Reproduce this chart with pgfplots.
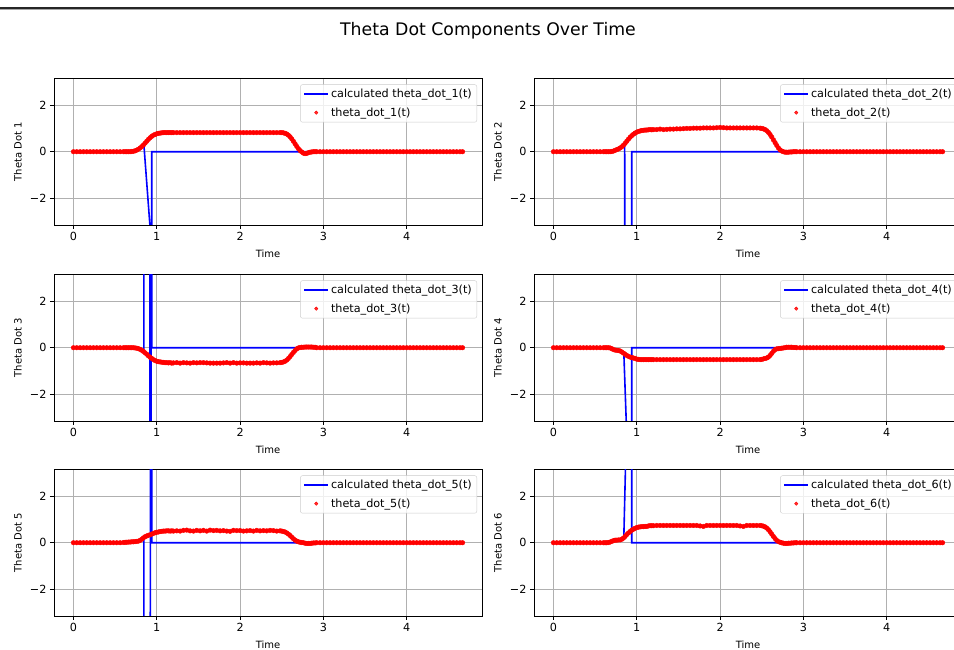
\documentclass[border=0pt]{standalone}
\usepackage{pgfplots}
\usepackage{pgfplotstable}
\pgfplotsset{compat=1.18}
\usepackage{fontspec}
\setmainfont{DejaVu Sans}
\definecolor{gridgray}{HTML}{B0B0B0}
\definecolor{legedge}{HTML}{CCCCCC}

\pgfplotstableread{
t y
0.00 0
0.04 0
0.08 0
0.12 0
0.16 0
0.20 0
0.24 0
0.28 0
0.32 0
0.36 0
0.40 0
0.44 0
0.48 0
0.52 0
0.56 0
2.92 0
2.96 0
3.00 0
3.04 0
3.08 0
3.12 0
3.16 0
3.20 0
3.24 0
3.28 0
3.32 0
3.36 0
3.40 0
3.44 0
3.48 0
3.52 0
3.56 0
3.60 0
3.64 0
3.68 0
3.72 0
3.76 0
3.80 0
3.84 0
3.88 0
3.92 0
3.96 0
4.00 0
4.04 0
4.08 0
4.12 0
4.16 0
4.20 0
4.24 0
4.28 0
4.32 0
4.36 0
4.40 0
4.44 0
4.48 0
4.52 0
4.56 0
4.60 0
4.64 0
4.67 0
}\flatT

\pgfplotstableread{
t p1 p2 p3 p4 p5 p6
0.60 0 0 0 0 0.01 0
0.62 0 0 0 0 0.02 0
0.64 0 0 0 0 0.02 0
0.66 0 0 0 0 0.03 0.01
0.68 0 0 0 -0.01 0.03 0.03
0.70 0.01 0.01 0 -0.04 0.04 0.06
0.72 0.02 0.03 0 -0.08 0.04 0.09
0.74 0.04 0.06 -0.01 -0.10 0.05 0.11
0.76 0.07 0.09 -0.02 -0.11 0.06 0.11
0.78 0.11 0.12 -0.04 -0.12 0.07 0.12
0.80 0.16 0.16 -0.07 -0.14 0.10 0.12
0.82 0.22 0.21 -0.11 -0.18 0.15 0.15
0.84 0.29 0.28 -0.16 -0.23 0.21 0.20
0.86 0.37 0.36 -0.22 -0.28 0.26 0.27
0.88 0.45 0.45 -0.28 -0.33 0.29 0.35
0.90 0.53 0.54 -0.35 -0.37 0.32 0.42
0.92 0.60 0.62 -0.41 -0.40 0.34 0.48
0.94 0.66 0.69 -0.46 -0.42 0.37 0.54
0.96 0.71 0.75 -0.51 -0.44 0.40 0.58
0.98 0.74 0.80 -0.55 -0.46 0.43 0.62
1.00 0.77 0.84 -0.58 -0.49 0.45 0.65
1.02 0.79 0.87 -0.60 -0.50 0.46 0.67
1.04 0.80 0.89 -0.61 -0.51 0.48 0.68
1.06 0.81 0.91 -0.62 -0.51 0.49 0.69
1.08 0.82 0.92 -0.63 -0.51 0.50 0.69
1.10 0.82 0.93 -0.64 -0.51 0.50 0.70
1.12 0.82 0.93 -0.64 -0.51 0.51 0.70
1.14 0.82 0.94 -0.65 -0.51 0.51 0.72
1.16 0.82 0.95 -0.64 -0.51 0.50 0.73
1.18 0.82 0.94 -0.66 -0.51 0.51 0.73
1.20 0.82 0.95 -0.65 -0.51 0.50 0.73
1.24 0.82 0.95 -0.64 -0.51 0.51 0.74
1.28 0.82 0.97 -0.66 -0.51 0.50 0.74
1.32 0.82 0.95 -0.64 -0.51 0.53 0.74
1.36 0.82 0.96 -0.65 -0.51 0.54 0.74
1.40 0.82 0.97 -0.66 -0.51 0.51 0.74
1.44 0.82 0.97 -0.64 -0.51 0.50 0.74
1.48 0.82 0.98 -0.65 -0.51 0.53 0.74
1.52 0.82 0.98 -0.64 -0.51 0.51 0.74
1.56 0.82 0.99 -0.64 -0.51 0.53 0.74
1.60 0.82 1.00 -0.65 -0.51 0.50 0.74
1.64 0.82 1.00 -0.66 -0.51 0.54 0.74
1.68 0.82 1.01 -0.66 -0.51 0.52 0.74
1.72 0.82 1.01 -0.66 -0.51 0.53 0.74
1.76 0.82 1.01 -0.66 -0.51 0.51 0.72
1.80 0.82 1.02 -0.65 -0.51 0.52 0.70
1.84 0.82 1.02 -0.64 -0.51 0.50 0.74
1.88 0.82 1.02 -0.66 -0.51 0.49 0.74
1.92 0.82 1.02 -0.64 -0.51 0.53 0.74
1.96 0.82 1.03 -0.66 -0.51 0.52 0.74
2.00 0.82 1.04 -0.65 -0.51 0.52 0.74
2.04 0.82 1.03 -0.65 -0.51 0.50 0.74
2.08 0.82 1.02 -0.66 -0.51 0.51 0.74
2.12 0.82 1.02 -0.66 -0.51 0.52 0.74
2.16 0.82 1.02 -0.66 -0.51 0.50 0.74
2.20 0.82 1.02 -0.65 -0.51 0.53 0.74
2.24 0.82 1.02 -0.66 -0.51 0.51 0.72
2.28 0.82 1.02 -0.64 -0.51 0.52 0.70
2.32 0.82 1.02 -0.65 -0.51 0.51 0.74
2.36 0.82 1.02 -0.66 -0.51 0.53 0.74
2.40 0.82 1.02 -0.65 -0.51 0.52 0.74
2.44 0.82 1.02 -0.65 -0.51 0.50 0.74
2.48 0.82 1.01 -0.64 -0.51 0.51 0.74
2.50 0.82 1.00 -0.63 -0.50 0.50 0.73
2.52 0.81 0.98 -0.61 -0.48 0.48 0.71
2.54 0.79 0.95 -0.58 -0.46 0.46 0.68
2.56 0.76 0.90 -0.53 -0.44 0.42 0.63
2.58 0.71 0.83 -0.46 -0.40 0.37 0.56
2.60 0.64 0.74 -0.38 -0.33 0.31 0.47
2.62 0.55 0.63 -0.29 -0.24 0.24 0.37
2.64 0.45 0.51 -0.20 -0.15 0.17 0.27
2.66 0.34 0.39 -0.12 -0.08 0.11 0.18
2.68 0.23 0.27 -0.05 -0.05 0.07 0.10
2.70 0.13 0.16 -0.01 -0.04 0.04 0.05
2.72 0.05 0.08 0.01 -0.03 0.02 0.02
2.74 -0.01 0.03 0.02 -0.02 0.01 0.00
2.76 -0.06 0.00 0.02 -0.01 0.00 -0.02
2.78 -0.08 -0.02 0.03 0.00 -0.02 -0.03
2.80 -0.07 -0.02 0.03 0.02 -0.03 -0.03
2.82 -0.04 -0.02 0.03 0.02 -0.03 -0.02
2.84 -0.02 -0.01 0.03 0.02 -0.03 -0.02
2.86 -0.01 -0.01 0.03 0.02 -0.02 -0.01
2.88 0 0 0.02 0.01 -0.01 -0.01
2.90 0 0 0.02 0.01 -0.01 0
}\mainT

\pgfplotsset{
  panel/.style={
    anchor=south west,
    scale only axis, width=428pt, height=146.5pt,
    xmin=-0.2335, xmax=4.9035, ymin=-3.14159, ymax=3.14159,
    xtick={0,1,2,3,4}, ytick={-2,0,2}, yticklabels={−2,0,2},
    /pgf/number format/assume math mode=true,
    grid=major, major grid style={color=gridgray, line width=0.8pt},
    axis line style={line width=0.8pt},
    tick style={black, line width=0.8pt}, major tick length=4pt,
    tick align=outside, tick pos=left,
    ticklabel style={font=\fontsize{11.2}{13}\selectfont},
    label style={font=\fontsize{11.2}{13}\selectfont},
    xlabel={Time},
    every axis x label/.style={at={(axis description cs:0.5,-0.197)}, anchor=center},
    every axis y label/.style={at={(axis description cs:-0.0841,0.5)}, anchor=center, rotate=90},
    legend style={at={(1,1)}, anchor=north east, xshift=-5pt, yshift=-6pt,
      draw=legedge, rounded corners=2pt, fill=white, fill opacity=0.8, draw opacity=1, text opacity=1,
      font=\fontsize{11.2}{13}\selectfont, inner xsep=3pt, inner ysep=2.5pt, row sep=4.5pt},
    legend cell align=left,
  },
  redpts/.style={only marks, mark=*, mark size=2.3pt, red, draw=red, fill=red, forget plot},
  bluel/.style={color=blue, line width=1.6pt, forget plot},
}

\begin{document}
\begin{tikzpicture}
\draw[line width=2.6pt, black!85] (0pt,642pt) -- (954pt,642pt);
\draw[line width=0.8pt, black!35] (0pt,640.2pt) -- (954pt,640.2pt);
\node[font=\fontsize{17.3}{20}\selectfont] at (488pt,619pt) {Theta Dot Components Over Time};

% ---- Panel 1
\begin{axis}[panel, at={(54pt,425pt)}, ylabel={Theta Dot 1}]
\addlegendimage{blue, line width=1.6pt, legend image code/.code={\draw[blue, line width=1.6pt] (0pt,0pt) -- (24pt,0pt);}}\addlegendentry{calculated theta\_dot\_1(t)}
\addlegendimage{red, legend image code/.code={\fill[red] (12pt,0pt) circle (1.7pt);}}\addlegendentry{theta\_dot\_1(t)}
\addplot[redpts] table[x=t,y=y] {\flatT};
\addplot[redpts] table[x=t,y=p1] {\mainT};
\addplot[bluel] coordinates {(0.845,0.32) (0.925,-3.5) (0.93,-40) (0.935,-40) (0.94,0) (3.0,0)};
\end{axis}

% ---- Panel 2
\begin{axis}[panel, at={(534pt,425pt)}, ylabel={Theta Dot 2}]
\addlegendimage{blue, line width=1.6pt, legend image code/.code={\draw[blue, line width=1.6pt] (0pt,0pt) -- (24pt,0pt);}}\addlegendentry{calculated theta\_dot\_2(t)}
\addlegendimage{red, legend image code/.code={\fill[red] (12pt,0pt) circle (1.7pt);}}\addlegendentry{theta\_dot\_2(t)}
\addplot[redpts] table[x=t,y=y] {\flatT};
\addplot[redpts] table[x=t,y=p2] {\mainT};
\addplot[bluel] coordinates {(0.855,0.33) (0.86,-40) (0.935,-40) (0.94,0) (3.0,0)};
\end{axis}

% ---- Panel 3
\begin{axis}[panel, at={(54pt,229pt)}, ylabel={Theta Dot 3}]
\addlegendimage{blue, line width=1.6pt, legend image code/.code={\draw[blue, line width=1.6pt] (0pt,0pt) -- (24pt,0pt);}}\addlegendentry{calculated theta\_dot\_3(t)}
\addlegendimage{red, legend image code/.code={\fill[red] (12pt,0pt) circle (1.7pt);}}\addlegendentry{theta\_dot\_3(t)}
\addplot[redpts] table[x=t,y=y] {\flatT};
\addplot[redpts] table[x=t,y=p3] {\mainT};
\addplot[bluel] coordinates {(0.845,-0.13) (0.85,40) (0.915,40) (0.92,-40) (0.93,-40) (0.935,40) (0.94,0) (3.0,0)};
\end{axis}

% ---- Panel 4
\begin{axis}[panel, at={(534pt,229pt)}, ylabel={Theta Dot 4}]
\addlegendimage{blue, line width=1.6pt, legend image code/.code={\draw[blue, line width=1.6pt] (0pt,0pt) -- (24pt,0pt);}}\addlegendentry{calculated theta\_dot\_4(t)}
\addlegendimage{red, legend image code/.code={\fill[red] (12pt,0pt) circle (1.7pt);}}\addlegendentry{theta\_dot\_4(t)}
\addplot[redpts] table[x=t,y=y] {\flatT};
\addplot[redpts] table[x=t,y=p4] {\mainT};
\addplot[bluel] coordinates {(0.845,-0.25) (0.875,-3.3) (0.88,-40) (0.935,-40) (0.94,0) (3.0,0)};
\end{axis}

% ---- Panel 5
\begin{axis}[panel, at={(54pt,34pt)}, ylabel={Theta Dot 5}]
\addlegendimage{blue, line width=1.6pt, legend image code/.code={\draw[blue, line width=1.6pt] (0pt,0pt) -- (24pt,0pt);}}\addlegendentry{calculated theta\_dot\_5(t)}
\addlegendimage{red, legend image code/.code={\fill[red] (12pt,0pt) circle (1.7pt);}}\addlegendentry{theta\_dot\_5(t)}
\addplot[redpts] table[x=t,y=y] {\flatT};
\addplot[redpts] table[x=t,y=p5] {\mainT};
\addplot[bluel] coordinates {(0.845,0.28) (0.85,-40) (0.92,-40) (0.925,40) (0.935,40) (0.94,0) (3.0,0)};
\end{axis}

% ---- Panel 6
\begin{axis}[panel, at={(534pt,34pt)}, ylabel={Theta Dot 6}]
\addlegendimage{blue, line width=1.6pt, legend image code/.code={\draw[blue, line width=1.6pt] (0pt,0pt) -- (24pt,0pt);}}\addlegendentry{calculated theta\_dot\_6(t)}
\addlegendimage{red, legend image code/.code={\fill[red] (12pt,0pt) circle (1.7pt);}}\addlegendentry{theta\_dot\_6(t)}
\addplot[redpts] table[x=t,y=y] {\flatT};
\addplot[redpts] table[x=t,y=p6] {\mainT};
\addplot[bluel] coordinates {(0.845,0.30) (0.865,3.3) (0.87,40) (0.935,40) (0.94,0) (3.0,0)};
\end{axis}

\pgfresetboundingbox
\path[use as bounding box] (0pt,0pt) rectangle (954pt,650pt);
\end{tikzpicture}
\end{document}
